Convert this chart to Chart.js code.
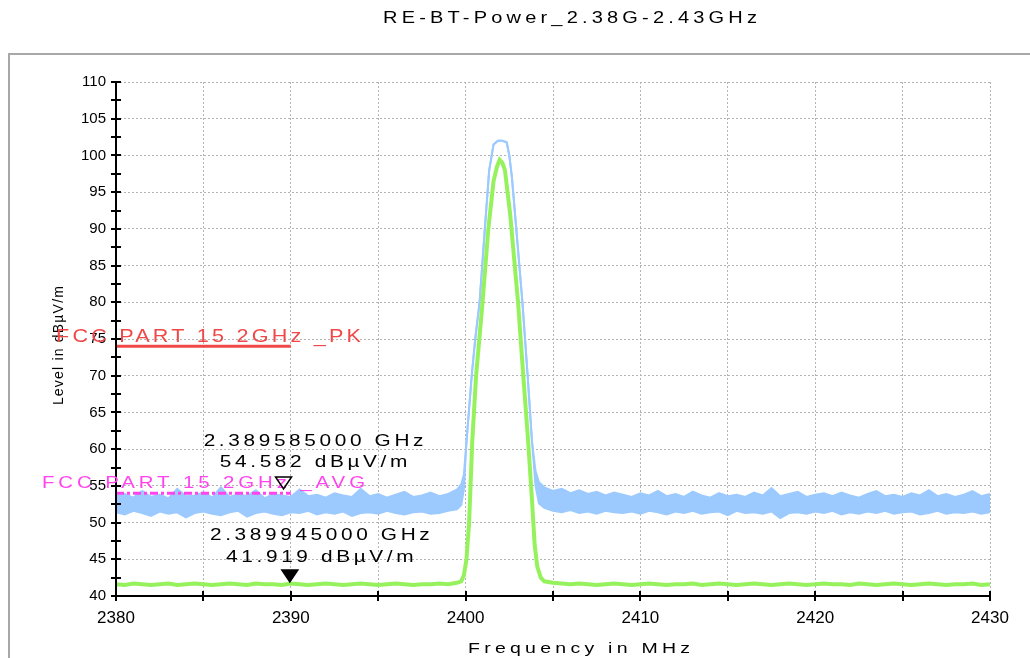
<!DOCTYPE html>
<html>
<head>
<meta charset="utf-8">
<script src="https://cdn.jsdelivr.net/npm/chart.js@4/dist/chart.umd.min.js"></script>
<style>
  body { margin: 0; background: #fff; }
  canvas { display: block; }
</style>
</head>
<body>
<canvas id="chart" width="1030" height="658"></canvas>
<script>
// ─── Data ─────────────────────────────────────────────────────────
const title = 'RE-BT-Power_2.38G-2.43GHz';
const xTicks = [2380, 2390, 2400, 2410, 2420, 2430];
const yTicks = [40, 45, 50, 55, 60, 65, 70, 75, 80, 85, 90, 95, 100, 105, 110];

// noise segments: sweep 2380..2399.5 and 2404.5..2430, 0.5 MHz steps
const leftStart = 2380, rightStart = 2404.5, sweepStep = 0.5;

// peak trace (blue), upper / lower edge of the noise band
const pkHighLeft = [53.6,53.9,53.4,54.3,53.5,53.8,53.3,54.6,53.6,53.7,
  54.1,53.4,54.8,53.5,53.9,53.6,54.4,53.3,53.9,53.7,
  53.5,54.5,53.6,53.8,53.4,54.0,53.7,53.5,54.6,53.6,
  53.9,53.4,53.8,54.2,53.5,53.7,54.1,53.6,53.9,54.5];
const pkLowLeft = [51.4,51.1,51.6,51.3,50.9,51.5,51.2,51.4,50.7,51.3,
  51.5,51.2,51.0,51.4,51.6,50.8,51.3,51.5,51.2,51.0,
  51.4,51.3,51.6,51.1,51.4,51.2,51.5,50.9,51.3,51.4,
  51.2,51.6,51.3,51.1,51.4,51.5,51.2,51.3,51.6,51.8];
const pkPeakFreq = [2399.75,2399.9,2400.05,2400.2,2400.35,2400.55,2400.8,2401.1,2401.35,2401.6,2401.85,
  2402.1,2402.35,2402.5,2402.65,2402.9,2403.25,2403.55,2403.8,2404.0,2404.2];
const pkPeakHigh = [55.2,56.5,61,65.5,70,75,80,90,98,101.5,102,102,101.8,100,97,90,80,70,61,57,55.5];
const pkPeakLow  = [52.4,54.5,61,65.5,70,75,80,90,98,101.5,102,102,101.8,100,97,90,80,70,61,55,52.6];
const pkHighRight = [54.8,54.3,54.6,54.0,54.4,53.9,54.2,53.7,54.1,53.8,
  53.5,54.0,53.7,54.3,53.6,53.9,53.5,54.2,53.7,53.4,
  54.0,53.6,53.8,53.5,54.1,53.7,54.7,53.6,53.9,54.2,
  53.5,53.8,54.0,53.6,54.1,53.7,53.4,53.9,54.3,53.6,
  53.8,53.5,54.0,53.7,54.4,53.6,53.9,53.5,53.8,54.3,
  53.6,53.9];
const pkLowRight = [52.0,51.6,51.4,51.7,51.3,51.5,51.2,51.6,51.4,51.3,
  51.5,51.2,51.6,51.4,51.1,51.5,51.3,51.6,51.2,51.4,
  51.5,51.0,51.6,51.3,51.4,51.2,51.5,50.6,51.3,51.4,
  51.2,51.5,51.3,51.6,51.1,51.4,51.2,51.5,51.3,51.6,
  51.2,51.4,51.5,51.1,51.3,51.6,51.2,51.4,51.3,51.5,
  51.2,51.4];

// average trace (green)
const avLeft = [41.6,41.5,41.7,41.6,41.5,41.6,41.7,41.5,41.6,41.7,
  41.6,41.5,41.6,41.7,41.6,41.5,41.7,41.6,41.6,41.5,
  41.7,41.6,41.5,41.6,41.7,41.6,41.5,41.6,41.7,41.6,
  41.5,41.6,41.7,41.6,41.5,41.6,41.6,41.7,41.6,41.8];
const avPeakFreq = [2399.75,2399.9,2400.05,2400.2,2400.38,2400.6,2400.97,2401.3,2401.6,2401.8,2401.95,
  2402.1,2402.25,2402.55,2403.0,2403.3,2403.58,2403.8,2403.95,2404.1,2404.3];
const avPeakLevel = [42.0,42.8,45,50,61,70,80,90,96.5,98.5,99.4,99,98,92,80,70,61,53,47,44,42.5];
const avRight = [42.0,41.8,41.7,41.6,41.7,41.6,41.5,41.6,41.7,41.6,
  41.5,41.6,41.7,41.6,41.5,41.6,41.6,41.7,41.5,41.6,
  41.7,41.6,41.5,41.6,41.7,41.6,41.5,41.6,41.7,41.6,
  41.5,41.6,41.7,41.6,41.6,41.5,41.7,41.6,41.5,41.6,
  41.7,41.6,41.5,41.6,41.7,41.6,41.5,41.6,41.6,41.7,
  41.5,41.6];

// limit lines
const limitFreq = [2380, 2390];
const pkLimit = [74, 74];
const avgLimit = [54, 54];

// markers
const markerFreq = [2389.585, 2389.945];
const markerLevel = [54.582, 41.919];
const markerText = [['2.389585000 GHz', '54.582 dBµV/m'], ['2.389945000 GHz', '41.919 dBµV/m']];

// ─── Build points ─────────────────────────────────────────────────
function trace(left, peakF, peakV, right) {
  const pts = [];
  left.forEach((v, i) => pts.push({ x: leftStart + i * sweepStep, y: v }));
  peakF.forEach((f, i) => pts.push({ x: f, y: peakV[i] }));
  right.forEach((v, i) => pts.push({ x: rightStart + i * sweepStep, y: v }));
  return pts;
}
const pair = (xs, ys) => xs.map((x, i) => ({ x, y: ys[i] }));

const colors = {
  blue: '#9ccaff',
  green: '#96f25c',
  red: '#f04848',
  magenta: '#ff44ee',
  grid: '#b4b4b4'
};

const FONT = '"Liberation Sans", Arial, sans-serif';

// wide, stretched text like the analyzer software draws
function wideText(ctx, text, left, baseline, size, sx, width) {
  ctx.save();
  ctx.font = size + 'px ' + FONT;
  ctx.letterSpacing = '0px';
  const w0 = ctx.measureText(text).width;
  const sp = (width / sx - w0) / (text.length - 1);
  ctx.letterSpacing = sp + 'px';
  ctx.textAlign = 'left';
  ctx.textBaseline = 'alphabetic';
  ctx.translate(left, baseline);
  ctx.scale(sx, 1);
  ctx.fillText(text, 0, 0);
  ctx.restore();
}

function spacedText(ctx, text, cx, baseline, size, sx, sp) {
  ctx.save();
  ctx.font = size + 'px ' + FONT;
  ctx.letterSpacing = sp + 'px';
  const w = (ctx.measureText(text).width - sp) * sx;
  ctx.textAlign = 'left';
  ctx.textBaseline = 'alphabetic';
  ctx.translate(cx - w / 2, baseline);
  ctx.scale(sx, 1);
  ctx.fillText(text, 0, 0);
  ctx.restore();
}

// ─── Overlay: frame, title, axis titles, ticks, limit labels, markers ───
const labelOffsets = [[43, 22], [42, 20]];

const overlay = {
  id: 'overlay',
  beforeDraw(chart) {
    const ctx = chart.ctx;
    ctx.save();
    ctx.strokeStyle = '#a8a8a8';
    ctx.lineWidth = 2;
    ctx.strokeRect(9, 54, 1030, 620);
    ctx.restore();
  },
  afterDatasetsDraw(chart) {
    const ctx = chart.ctx;
    const xs = chart.scales.x, ys = chart.scales.y;
    const area = chart.chartArea;
    ctx.save();

    // axis lines and tick marks crossing them
    ctx.strokeStyle = '#000';
    ctx.lineWidth = 2;
    ctx.beginPath();
    ctx.moveTo(area.left, area.top); ctx.lineTo(area.left, area.bottom); ctx.lineTo(area.right, area.bottom);
    ctx.stroke();
    for (let v = 40; v <= 110; v += 2.5) {
      const y = Math.round(ys.getPixelForValue(v));
      ctx.beginPath(); ctx.moveTo(area.left - 5, y); ctx.lineTo(area.left + 5, y); ctx.stroke();
    }
    for (let f = 2380; f <= 2430; f += 5) {
      const x = Math.round(xs.getPixelForValue(f));
      ctx.beginPath(); ctx.moveTo(x, area.bottom - 5); ctx.lineTo(x, area.bottom + 5); ctx.stroke();
    }

    // title and x axis title
    ctx.fillStyle = '#000';
    wideText(ctx, title, 383, 23, 16, 1.25, 374);
    wideText(ctx, 'Frequency in MHz', 468, 653, 15, 1.3, 222);

    // y axis title
    ctx.save();
    ctx.translate(63, 345);
    ctx.rotate(-Math.PI / 2);
    ctx.font = '14px ' + FONT;
    ctx.letterSpacing = '1.2px';
    ctx.textAlign = 'center';
    ctx.textBaseline = 'alphabetic';
    ctx.fillText('Level in dBµV/m', 0, 0);
    ctx.restore();

    // limit labels
    ctx.fillStyle = colors.red;
    wideText(ctx, 'FCC PART 15 2GHz _PK', 56, 342, 18, 1.2, 305);
    ctx.fillStyle = colors.magenta;
    wideText(ctx, 'FCC PART 15 2GHz _AVG', 42, 488, 17, 1.2, 323);

    // markers
    markerFreq.forEach((f, i) => {
      const x = xs.getPixelForValue(f);
      const y = ys.getPixelForValue(markerLevel[i]);
      ctx.beginPath();
      ctx.moveTo(x - 8, y - 12);
      ctx.lineTo(x + 8, y - 12);
      ctx.lineTo(x, y);
      ctx.closePath();
      ctx.lineWidth = 1.5;
      ctx.strokeStyle = '#000';
      ctx.fillStyle = '#000';
      if (i === 1) ctx.fill();
      ctx.stroke();

      spacedText(ctx, markerText[i][0], x + 30, y - labelOffsets[i][0], 16, 1.3, 2.8);
      spacedText(ctx, markerText[i][1], x + 30, y - labelOffsets[i][1], 16, 1.3, 2.8);
    });
    ctx.restore();
  }
};

// ─── Chart ────────────────────────────────────────────────────────
const lineDefaults = { pointRadius: 0, tension: 0, fill: false };

new Chart(document.getElementById('chart'), {
  type: 'line',
  data: {
    datasets: [
      { ...lineDefaults, label: 'PK limit', data: pair(limitFreq, pkLimit), borderColor: colors.red, borderWidth: 3, order: 0 },
      { ...lineDefaults, label: 'AVG limit', data: pair(limitFreq, avgLimit), borderColor: colors.magenta, borderWidth: 3,
        borderDash: [8, 3, 3, 3], order: 1 },
      { ...lineDefaults, label: 'AV', data: trace(avLeft, avPeakFreq, avPeakLevel, avRight), borderColor: colors.green, borderWidth: 4, order: 2 },
      { ...lineDefaults, label: 'PK high', data: trace(pkHighLeft, pkPeakFreq, pkPeakHigh, pkHighRight), borderColor: colors.blue,
        borderWidth: 2, fill: '+1', backgroundColor: colors.blue, order: 3 },
      { ...lineDefaults, label: 'PK low', data: trace(pkLowLeft, pkPeakFreq, pkPeakLow, pkLowRight), borderColor: colors.blue,
        borderWidth: 2, order: 4 }
    ]
  },
  options: {
    responsive: false,
    animation: false,
    layout: { padding: { top: 82, right: 40, bottom: 0, left: 0 } },
    plugins: { legend: { display: false }, tooltip: { enabled: false } },
    scales: {
      x: {
        type: 'linear', min: 2380, max: 2430,
        afterFit: s => { s.height = 62; },
        afterBuildTicks: s => { s.ticks = []; for (let f = 2380; f <= 2430; f += 5) s.ticks.push({ value: f }); },
        ticks: {
          color: '#000', padding: 12, maxRotation: 0,
          font: { family: FONT, size: 17 },
          callback: v => xTicks.includes(v) ? String(v) : ''
        },
        grid: { color: colors.grid, lineWidth: 1, drawTicks: false },
        border: { display: false, dash: [2, 2] }
      },
      y: {
        min: 40, max: 110,
        afterFit: s => { s.width = 116; },
        afterBuildTicks: s => { s.ticks = []; for (let v = 40; v <= 110; v += 2.5) s.ticks.push({ value: v }); },
        ticks: {
          color: '#000', padding: 10,
          font: { family: FONT, size: 15 },
          callback: v => yTicks.includes(v) ? String(v) : ''
        },
        grid: { color: colors.grid, lineWidth: 1, drawTicks: false },
        border: { display: false, dash: [2, 2] }
      }
    }
  },
  plugins: [overlay]
});
</script>
</body>
</html>
